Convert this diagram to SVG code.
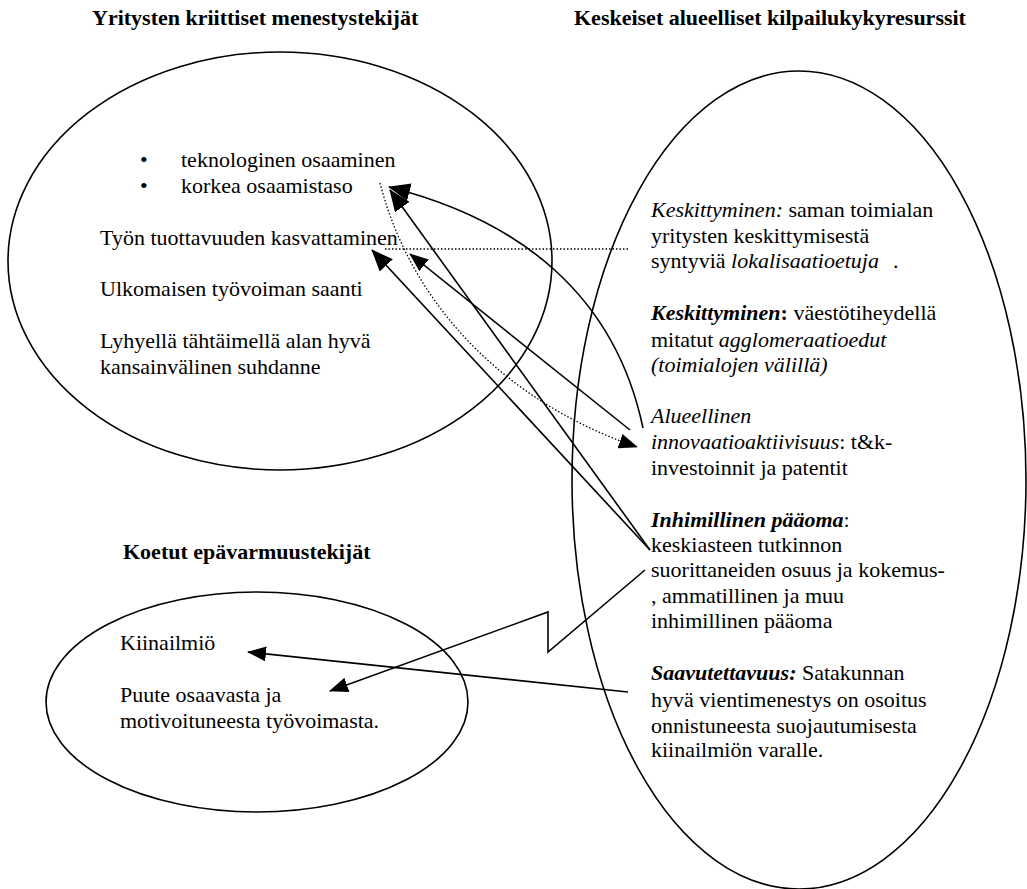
<svg xmlns="http://www.w3.org/2000/svg" width="1027" height="889" viewBox="0 0 1027 889" font-family="'Liberation Serif', 'DejaVu Serif', serif">
<style>
text{font-family:'Liberation Serif','DejaVu Serif',serif;font-size:22px;fill:#000}
.b{font-weight:bold}
.i{font-style:italic}
.bi{font-weight:bold;font-style:italic}
.shape{fill:none;stroke:#000;stroke-width:1.6}
.con{fill:none;stroke:#000;stroke-width:1.6}
.dot{fill:none;stroke:#000;stroke-width:1.3;stroke-dasharray:1.5 2}
</style>
<defs>
<marker id="ah" markerUnits="userSpaceOnUse" markerWidth="22" markerHeight="18" refX="21" refY="9" orient="auto">
<path d="M0,0 L22,9 L0,18 z" fill="#000"/>
</marker>
<marker id="ahs" markerUnits="userSpaceOnUse" markerWidth="19" markerHeight="15" refX="18" refY="7.5" orient="auto">
<path d="M0,0 L19,7.5 L0,15 z" fill="#000"/>
</marker>
</defs>
<rect width="1027" height="889" fill="#fff"/>

<g id="title-yritysten"><text class="b" x="92" y="25">Yritysten kriittiset menestystekijät</text></g>
<g id="title-keskeiset"><text class="b" x="574" y="25">Keskeiset alueelliset kilpailukykyresurssit</text></g>
<g id="title-koetut"><text class="b" x="123" y="559">Koetut epävarmuustekijät</text></g>

<g id="node-menestystekijat">
<ellipse class="shape" cx="280" cy="261" rx="272" ry="209"/>
<text x="140" y="167">•</text>
<text x="181" y="167">teknologinen osaaminen</text>
<text x="140" y="193">•</text>
<text x="181" y="193">korkea osaamistaso</text>
<text x="100" y="245">Työn tuottavuuden kasvattaminen</text>
<text x="100" y="296">Ulkomaisen työvoiman saanti</text>
<text x="100" y="348">Lyhyellä tähtäimellä alan hyvä</text>
<text x="100" y="374">kansainvälinen suhdanne</text>
</g>

<g id="node-resurssit">
<ellipse class="shape" cx="799" cy="480" rx="227" ry="409"/>
<text x="651" y="217"><tspan class="i">Keskittyminen:</tspan> saman toimialan</text>
<text x="651" y="243">yritysten keskittymisestä</text>
<text x="651" y="268">syntyviä <tspan class="i">lokalisaatioetuja</tspan><tspan x="893">.</tspan></text>
<text x="651" y="320"><tspan class="bi">Keskittyminen</tspan><tspan class="b">:</tspan> väestötiheydellä</text>
<text x="651" y="347">mitatut <tspan class="i">agglomeraatioedut</tspan></text>
<text class="i" x="651" y="372">(toimialojen välillä)</text>
<text class="i" x="651" y="423">Alueellinen</text>
<text x="651" y="449"><tspan class="i">innovaatioaktiivisuus</tspan>: t&amp;k-</text>
<text x="651" y="475">investoinnit ja patentit</text>
<text x="651" y="527"><tspan class="bi">Inhimillinen pääoma</tspan>:</text>
<text x="651" y="552">keskiasteen tutkinnon</text>
<text x="651" y="577">suorittaneiden osuus ja kokemus-</text>
<text x="651" y="603">, ammatillinen ja muu</text>
<text x="651" y="628">inhimillinen pääoma</text>
<text x="651" y="680"><tspan class="bi">Saavutettavuus:</tspan> Satakunnan</text>
<text x="651" y="707">hyvä vientimenestys on osoitus</text>
<text x="651" y="733">onnistuneesta suojautumisesta</text>
<text x="651" y="757">kiinailmiön varalle.</text>
</g>

<g id="node-epavarmuus">
<ellipse class="shape" cx="257" cy="702" rx="211" ry="110"/>
<text x="120" y="650">Kiinailmiö</text>
<text x="120" y="702">Puute osaavasta ja</text>
<text x="120" y="728">motivoituneesta työvoimasta.</text>
</g>

<g id="connectors">
<path class="dot" d="M385,249 L630,249"/>
<path class="dot" d="M380,183 C410,300 500,400 637,447" marker-end="url(#ahs)"/>
<path class="con" d="M643,428 C615,295 520,220 389,187" marker-end="url(#ah)"/>
<path class="con" d="M650,550 L390,190" marker-end="url(#ah)"/>
<path class="con" d="M650,550 L372,250" marker-end="url(#ah)"/>
<path class="con" d="M630,430 L410,254" marker-end="url(#ahs)"/>
<path class="con" d="M645,570 L548,652 L548,612 L330,691" marker-end="url(#ahs)"/>
<path class="con" d="M628,692 L248,652" marker-end="url(#ahs)"/>
</g>
</svg>
